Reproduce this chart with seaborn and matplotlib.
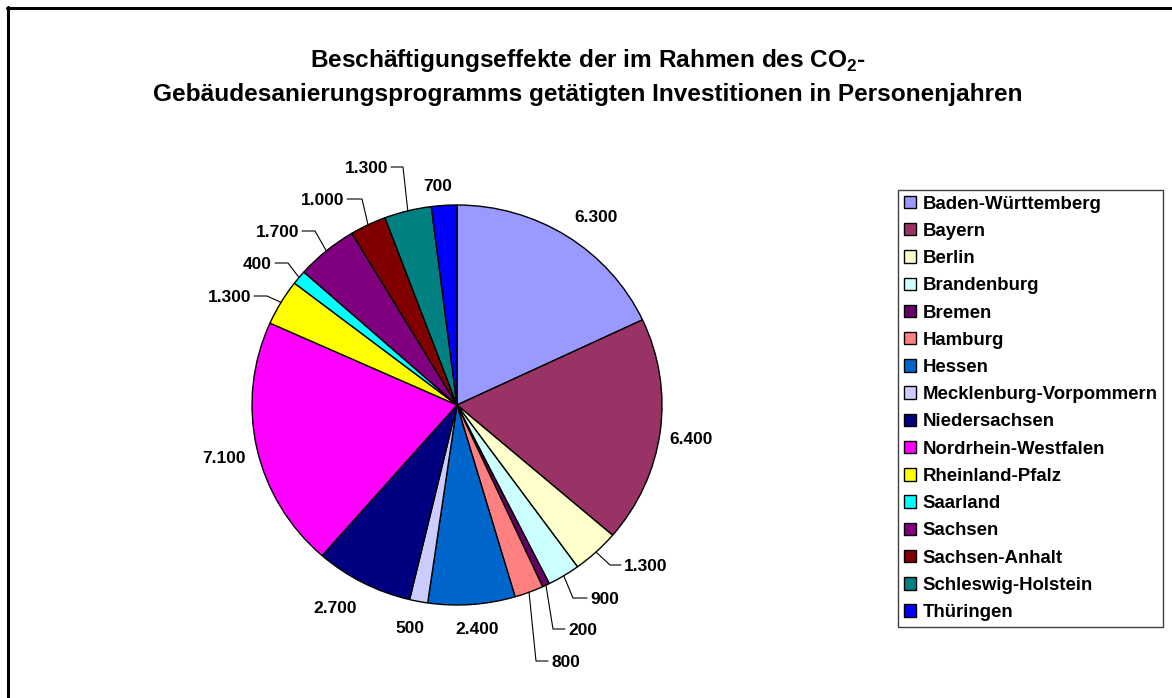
import matplotlib
matplotlib.use("Agg")
import matplotlib.pyplot as plt
from matplotlib.lines import Line2D
import numpy as np
import seaborn as sns

# ---------------- data ----------------
states = ["Baden-Württemberg", "Bayern", "Berlin", "Brandenburg", "Bremen",
          "Hamburg", "Hessen", "Mecklenburg-Vorpommern", "Niedersachsen",
          "Nordrhein-Westfalen", "Rheinland-Pfalz", "Saarland", "Sachsen",
          "Sachsen-Anhalt", "Schleswig-Holstein", "Thüringen"]
values = [6300, 6400, 1300, 900, 200, 800, 2400, 500, 2700, 7100,
          1300, 400, 1700, 1000, 1300, 700]
colors = ["#9999FF", "#993366", "#FFFFCC", "#CCFFFF", "#660066", "#FF8080",
          "#0066CC", "#CCCCFF", "#000080", "#FF00FF", "#FFFF00", "#00FFFF",
          "#800080", "#800000", "#008080", "#0000FF"]
title_line1 = r"Beschäftigungseffekte der im Rahmen des CO$_\mathbf{2}$-"
title_line2 = "Gebäudesanierungsprogramms getätigten Investitionen in Personenjahren"

# ---------------- style ----------------
sns.set_theme(style="white")
plt.rcParams["font.family"] = ["Liberation Sans", "DejaVu Sans"]
plt.rcParams["text.color"] = "black"
plt.rcParams["mathtext.fontset"] = "custom"
plt.rcParams["mathtext.bf"] = "Liberation Sans:bold"
plt.rcParams["mathtext.rm"] = "Liberation Sans"

W, H = 1172, 698
fig = plt.figure(figsize=(W / 100, H / 100), dpi=100)
ax = fig.add_axes([0, 0, 1, 1])

# pie geometry in pixel space (slightly elliptical like the original)
CX, CY, RX, RY = 457, 405, 205, 200


def px(x):
    return (x - CX) / RX


def py(y):
    return (CY - y) / RY


wedges, _ = ax.pie(values, colors=colors, startangle=90, counterclock=False,
                   radius=1, center=(0, 0),
                   wedgeprops=dict(edgecolor="black", linewidth=1.0))
ax.set_aspect("auto")
ax.set_xlim(px(0), px(W))
ax.set_ylim(py(H), py(0))
ax.axis("off")

# label layout (pixel positions of the value labels)
label_layout = [
    (596, 216, "center"), (691, 438, "center"), (624, 565, "left"),
    (590, 598, "left"), (568, 629, "left"), (551, 661, "left"),
    (477, 628, "center"), (410, 627, "center"), (335, 607, "center"),
    (224, 457, "center"), (251, 296, "right"), (272, 263, "right"),
    (299, 231, "right"), (344, 199, "right"), (388, 167, "right"),
    (438, 185, "center"),
]
elbows = {2: (610, 565), 3: (573, 598), 4: (553, 629), 5: (536, 661),
          10: (267, 296), 11: (288, 263), 12: (315, 231), 13: (362, 199),
          14: (403, 167)}

for i, (w, v) in enumerate(zip(wedges, values)):
    lx, ly, ha = label_layout[i]
    txt = f"{v:,}".replace(",", ".")
    ax.text(px(lx), py(ly), txt, ha=ha, va="center_baseline",
            fontsize=12.5, fontweight="bold", color="black")
    if i in elbows:
        mid = np.deg2rad((w.theta1 + w.theta2) / 2)
        sx, sy = np.cos(mid), np.sin(mid)
        ex, ey = elbows[i]
        endx = lx - 3 if ha == "left" else lx + 3
        ax.plot([sx, px(ex), px(endx)], [sy, py(ey), py(ey)],
                color="black", lw=0.8, solid_joinstyle="miter")

# legend
leg = ax.legend(wedges, states, loc="upper left",
                bbox_to_anchor=(898 / W, 1 - 190 / H),
                bbox_transform=fig.transFigure, frameon=True, fancybox=False,
                framealpha=1, edgecolor="#404040", borderaxespad=0,
                borderpad=0.3, labelspacing=0.55, handlelength=0.65,
                handleheight=0.65, handletextpad=0.38, labelcolor="black",
                prop=dict(weight="bold", size=13.4))
leg.get_frame().set_linewidth(1.0)

# title
fig.text(588 / W, 1 - 67 / H, title_line1, ha="center", va="baseline",
         fontsize=17.6, fontweight="bold")
fig.text(588 / W, 1 - 101 / H, title_line2, ha="center", va="baseline",
         fontsize=17.6, fontweight="bold")

# chart-area frame (left and top edges visible)
fig.add_artist(Line2D([7.5 / W, 7.5 / W], [0, 1 - 6.5 / H],
                      transform=fig.transFigure, color="black", lw=2.2))
fig.add_artist(Line2D([6.5 / W, 1], [1 - 8 / H, 1 - 8 / H],
                      transform=fig.transFigure, color="black", lw=2.2))

fig.savefig("out.png", dpi=100)
